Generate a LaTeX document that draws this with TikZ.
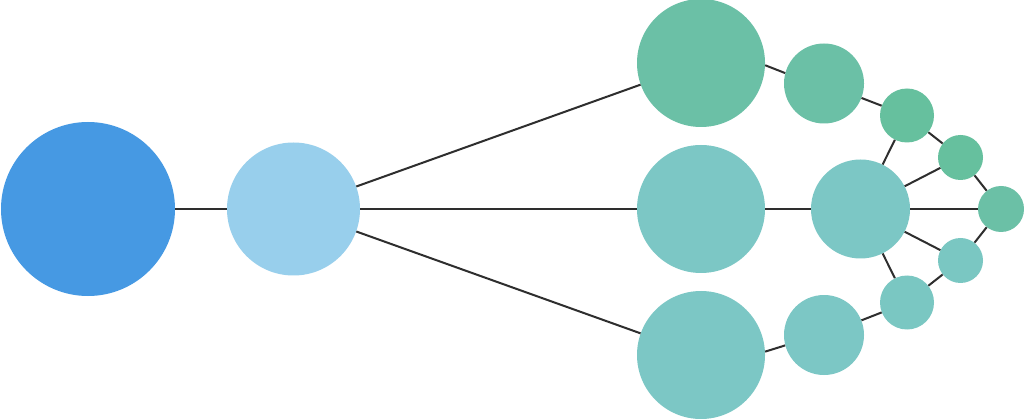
\documentclass[tikz,border=0pt]{standalone}
\begin{document}
\begin{tikzpicture}[x=1pt,y=-1pt,
  dot/.style={circle,draw=none,inner sep=0pt,minimum size=#1},
  link/.style={draw=black!82,line width=2pt}]
\definecolor{cA}{HTML}{4699E3}
\definecolor{cB}{HTML}{98CFEC}
\definecolor{cGreen}{HTML}{6BC0A6}
\definecolor{cGreenB}{HTML}{66C09E}
\definecolor{cTeal}{HTML}{7CC7C5}
\definecolor{cTealB}{HTML}{7AC7C2}
\useasboundingbox (0,0) rectangle (1024,419);
\fill[white] (0,0) rectangle (1024,419);
\node[dot=174pt,fill=cA] (A) at (88,209) {};
\node[dot=133pt,fill=cB] (B) at (293.5,209) {};
\node[dot=128pt,fill=cGreen] (C1) at (701,63) {};
\node[dot=128pt,fill=cTeal] (C2) at (701,209) {};
\node[dot=128pt,fill=cTeal] (C3) at (701,355) {};
\node[dot=80pt,fill=cGreen] (D1) at (824,83.5) {};
\node[dot=99pt,fill=cTeal] (E) at (860.5,209) {};
\node[dot=80pt,fill=cTeal] (D3) at (824,335) {};
\node[dot=54pt,fill=cGreenB] (F1) at (907,115.5) {};
\node[dot=54pt,fill=cTealB] (F3) at (907,302.5) {};
\node[dot=45pt,fill=cGreenB] (G1) at (960.5,157.5) {};
\node[dot=45pt,fill=cTealB] (G3) at (960.5,260.5) {};
\node[dot=46pt,fill=cGreen] (H) at (1001,209) {};
\draw[link] (A) -- (B);
\draw[link] (B) -- (C1);
\draw[link] (B) -- (C2);
\draw[link] (B) -- (C3);
\draw[link] (C1.-2) -- (D1.165);
\draw[link] (C2) -- (E);
\draw[link] (C3.3) -- (D3.195);
\draw[link] (D1) -- (F1);
\draw[link] (D3) -- (F3);
\draw[link] (E) -- (F1);
\draw[link] (E) -- (F3);
\draw[link] (E) -- (G1);
\draw[link] (E) -- (G3);
\draw[link] (E) -- (H);
\draw[link] (F1) -- (G1);
\draw[link] (F3) -- (G3);
\draw[link] (G1) -- (H);
\draw[link] (G3) -- (H);
\end{tikzpicture}
\end{document}
